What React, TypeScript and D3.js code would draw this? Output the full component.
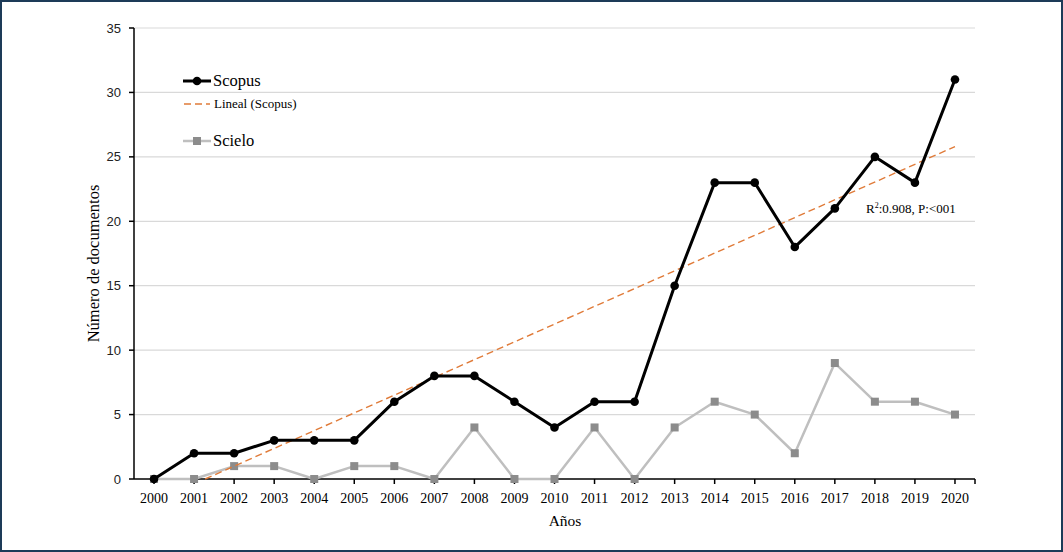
import React from "react";
import * as d3 from "d3";

const years = ["2000","2001","2002","2003","2004","2005","2006","2007","2008","2009","2010","2011","2012","2013","2014","2015","2016","2017","2018","2019","2020"];
const scopus = [0,2,2,3,3,3,6,8,8,6,4,6,6,15,23,23,18,21,25,23,31];
const scielo = [0,0,1,1,0,1,1,0,4,0,0,4,0,4,6,5,2,9,6,6,5];
// Linear trend (Scopus) values read at first and last year
const trendEnds = [-1.76, 25.8];
const yTicks = [0,5,10,15,20,25,30,35];

const W = 1063, H = 552;
const L = 134, R = 975, T = 28, B = 479;

export default function App() {
  const x = d3.scaleBand().domain(years).range([L, R]).padding(0);
  const cx = (yr: string) => (x(yr) as number) + x.bandwidth() / 2;
  const y = d3.scaleLinear().domain([0, 35]).range([B, T]);
  const line = d3.line<number>().x((_, i) => cx(years[i])).y(d => y(d));

  // trend clipped at y=0
  const n = years.length - 1;
  const slope = (trendEnds[1] - trendEnds[0]) / n;
  const i0 = -trendEnds[0] / slope;
  const tx0 = cx(years[0]) + i0 * x.bandwidth();
  const tx1 = cx(years[n]);

  const serif = "'Liberation Serif', 'Times New Roman', serif";
  const sans = "'Liberation Sans', Arial, sans-serif";

  return (
    <svg width={W} height={H} style={{ position: "absolute", left: 0, top: 0, background: "#fff" }}>
      <rect x={1} y={1} width={W - 2} height={H - 2} fill="#fff" stroke="#1d3b58" strokeWidth={2} />
      {yTicks.filter(t => t > 0).map(t => (
        <line key={"g" + t} x1={L} x2={R} y1={y(t)} y2={y(t)} stroke="#d9d9d9" strokeWidth={1.2} />
      ))}
      {/* y axis */}
      <line x1={L} x2={L} y1={T} y2={B} stroke="#000" strokeWidth={1.5} />
      {yTicks.map(t => (
        <g key={"y" + t}>
          <line x1={L - 5} x2={L} y1={y(t)} y2={y(t)} stroke="#000" strokeWidth={1.5} />
          <text x={L - 13} y={y(t)} dy="0.35em" textAnchor="end" fontFamily={sans} fontSize={13} fill="#222">{t}</text>
        </g>
      ))}
      {/* x axis */}
      <line x1={L} x2={R} y1={B} y2={B} stroke="#000" strokeWidth={1.5} />
      {years.map(yr => (
        <g key={"x" + yr}>
          <line x1={cx(yr)} x2={cx(yr)} y1={B} y2={B + 5} stroke="#000" strokeWidth={1.5} />
          <text x={cx(yr)} y={B + 24} textAnchor="middle" fontFamily={serif} fontSize={14} fill="#000">{yr}</text>
        </g>
      ))}
      <line x1={R} x2={R} y1={B} y2={B + 5} stroke="#000" strokeWidth={1.5} />

      <text x={565} y={526} textAnchor="middle" fontFamily={serif} fontSize={15.5}>Años</text>
      <text transform={`translate(99,${(T + B) / 2 + 10}) rotate(-90)`} textAnchor="middle" fontFamily={serif} fontSize={16.5}>Número de documentos</text>

      {/* Scielo */}
      <path d={line(scielo) || ""} fill="none" stroke="#bfbfbf" strokeWidth={2.5} strokeLinejoin="round" />
      {scielo.map((v, i) => (
        <rect key={"s" + i} x={cx(years[i]) - 4} y={y(v) - 4} width={8} height={8} fill="#8c8c8c" />
      ))}
      {/* trend */}
      <line x1={tx0} y1={y(0)} x2={tx1} y2={y(trendEnds[1])} stroke="#e07b39" strokeWidth={1.4} strokeDasharray="7,4" />
      {/* Scopus */}
      <path d={line(scopus) || ""} fill="none" stroke="#000" strokeWidth={3} strokeLinejoin="round" />
      {scopus.map((v, i) => (
        <circle key={"c" + i} cx={cx(years[i])} cy={y(v)} r={4.3} fill="#000" />
      ))}

      {/* legend */}
      <line x1={183} x2={211} y1={81} y2={81} stroke="#000" strokeWidth={3} />
      <circle cx={197} cy={81} r={4.3} fill="#000" />
      <text x={213} y={86} fontFamily={serif} fontSize={16.5}>Scopus</text>
      <line x1={184} x2={210} y1={104} y2={104} stroke="#e07b39" strokeWidth={1.4} strokeDasharray="7,4" />
      <text x={214} y={108} fontFamily={serif} fontSize={13}>Lineal (Scopus)</text>
      <line x1={183} x2={211} y1={141} y2={141} stroke="#bfbfbf" strokeWidth={2.5} />
      <rect x={193} y={137} width={8} height={8} fill="#8c8c8c" />
      <text x={213} y={146} fontFamily={serif} fontSize={16.5}>Scielo</text>

      <text x={866} y={213} fontFamily={serif} fontSize={13}>
        R<tspan fontSize={8} dy={-5}>2</tspan><tspan dy={5}>:0.908, P:&lt;001</tspan>
      </text>
    </svg>
  );
}
